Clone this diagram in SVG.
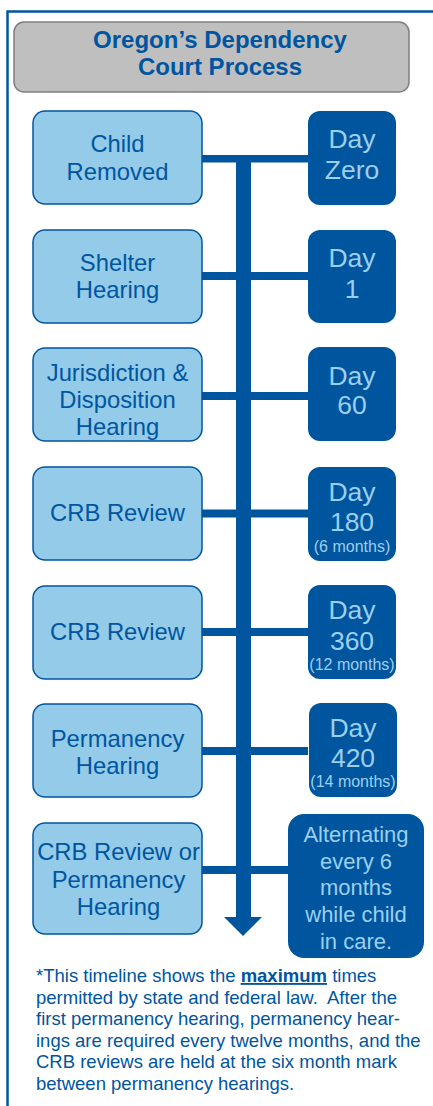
<svg xmlns="http://www.w3.org/2000/svg" width="433" height="1106" viewBox="0 0 433 1106">
<style>
.lbox{fill:#93CBE8;stroke:#0055A0;stroke-width:1.5}
.rbox{fill:#00559F}
.lt{font-family:"Liberation Sans",Arial,sans-serif;font-size:23.8px;fill:#0055A0;text-anchor:middle}
.rt{font-family:"Liberation Sans",Arial,sans-serif;font-size:26.5px;fill:#9CCFEE;text-anchor:middle}
.rs{font-size:16px}
.at{font-family:"Liberation Sans",Arial,sans-serif;font-size:22px;fill:#9CCFEE;text-anchor:middle}
.ft{font-family:"Liberation Sans",Arial,sans-serif;font-size:18.5px;fill:#0055A0}
.bar{fill:#00559F}
</style>
<rect width="433" height="1106" fill="#FFFFFF"/>
<g id="frame" fill="none" stroke="#0055A0" stroke-width="2.5">
<path d="M7.5 1106 V11.5 H433"/>
</g>
<g id="title">
<rect x="14" y="22" width="395" height="70" rx="10" fill="#BFBFBF" stroke="#7F7F7F" stroke-width="1.5"/>
<text x="220" y="48" font-family="'Liberation Sans',Arial,sans-serif" font-size="24" font-weight="bold" fill="#0055A0" text-anchor="middle">Oregon’s Dependency</text>
<text x="220" y="75" font-family="'Liberation Sans',Arial,sans-serif" font-size="24" font-weight="bold" fill="#0055A0" text-anchor="middle">Court Process</text>
</g>
<g id="connectors">
<rect class="bar" x="236" y="155" width="15" height="763"/>
<polygon class="bar" points="224,917 262,917 243,936"/>
<rect class="bar" x="202" y="155" width="106" height="7.5"/>
<rect class="bar" x="202" y="272" width="106" height="8"/>
<rect class="bar" x="202" y="392" width="106" height="8"/>
<rect class="bar" x="202" y="509.5" width="106" height="8"/>
<rect class="bar" x="202" y="628" width="106" height="8"/>
<rect class="bar" x="202" y="747" width="106" height="8"/>
<rect class="bar" x="202" y="866" width="86" height="8"/>
</g>
<g id="n1">
<rect class="lbox" x="33" y="111" width="169" height="93" rx="12"/>
<text class="lt" x="117.5" y="152">Child</text>
<text class="lt" x="117.5" y="179.5">Removed</text>
</g>
<g id="d1">
<rect class="rbox" x="308" y="111" width="88" height="94" rx="12"/>
<text class="rt" x="352" y="148">Day</text>
<text class="rt" x="352" y="179">Zero</text>
</g>
<g id="n2">
<rect class="lbox" x="33" y="230" width="169" height="93" rx="12"/>
<text class="lt" x="117.5" y="271">Shelter</text>
<text class="lt" x="117.5" y="298">Hearing</text>
</g>
<g id="d2">
<rect class="rbox" x="308" y="230" width="88" height="93" rx="12"/>
<text class="rt" x="352" y="267">Day</text>
<text class="rt" x="352" y="298">1</text>
</g>
<g id="n3">
<rect class="lbox" x="33" y="348" width="169" height="93" rx="12"/>
<text class="lt" x="117.5" y="381">Jurisdiction &amp;</text>
<text class="lt" x="117.5" y="408">Disposition</text>
<text class="lt" x="117.5" y="435">Hearing</text>
</g>
<g id="d3">
<rect class="rbox" x="308" y="347" width="88" height="94" rx="12"/>
<text class="rt" x="352" y="385">Day</text>
<text class="rt" x="352" y="414">60</text>
</g>
<g id="n4">
<rect class="lbox" x="33" y="467" width="169" height="93" rx="12"/>
<text class="lt" x="117.5" y="520.5">CRB Review</text>
</g>
<g id="d4">
<rect class="rbox" x="308" y="467" width="88" height="94" rx="12"/>
<text class="rt" x="352" y="501">Day</text>
<text class="rt" x="352" y="531">180</text>
<text class="rt rs" x="352" y="552">(6 months)</text>
</g>
<g id="n5">
<rect class="lbox" x="33" y="586" width="169" height="93" rx="12"/>
<text class="lt" x="117.5" y="640">CRB Review</text>
</g>
<g id="d5">
<rect class="rbox" x="308" y="585" width="88" height="94" rx="12"/>
<text class="rt" x="352" y="619">Day</text>
<text class="rt" x="352" y="650">360</text>
<text class="rt rs" x="352" y="670">(12 months)</text>
</g>
<g id="n6">
<rect class="lbox" x="33" y="704" width="169" height="93" rx="12"/>
<text class="lt" x="117.5" y="747">Permanency</text>
<text class="lt" x="117.5" y="773.5">Hearing</text>
</g>
<g id="d6">
<rect class="rbox" x="309" y="703" width="88" height="94" rx="12"/>
<text class="rt" x="353" y="737">Day</text>
<text class="rt" x="353" y="767">420</text>
<text class="rt rs" x="353" y="787">(14 months)</text>
</g>
<g id="n7">
<rect class="lbox" x="33" y="823" width="169" height="111" rx="12"/>
<text class="lt" x="118.5" y="860">CRB Review or</text>
<text class="lt" x="118.5" y="888">Permanency</text>
<text class="lt" x="118.5" y="915">Hearing</text>
</g>
<g id="d7">
<rect class="rbox" x="288" y="814" width="136" height="144" rx="16"/>
<text class="at" x="356" y="842">Alternating</text>
<text class="at" x="356" y="868.5">every 6</text>
<text class="at" x="356" y="895">months</text>
<text class="at" x="356" y="922">while child</text>
<text class="at" x="356" y="949">in care.</text>
</g>
<g id="footnote">
<text class="ft" x="36" y="982">*This timeline shows the <tspan font-weight="bold" text-decoration="underline">maximum</tspan> times</text>
<text class="ft" x="36" y="1003.5">permitted by state and federal law.&#160; After the</text>
<text class="ft" x="36" y="1025">first permanency hearing, permanency hear-</text>
<text class="ft" x="36" y="1046.5">ings are required every twelve months, and the</text>
<text class="ft" x="36" y="1068">CRB reviews are held at the six month mark</text>
<text class="ft" x="36" y="1089.5">between permanency hearings.</text>
</g>
</svg>
